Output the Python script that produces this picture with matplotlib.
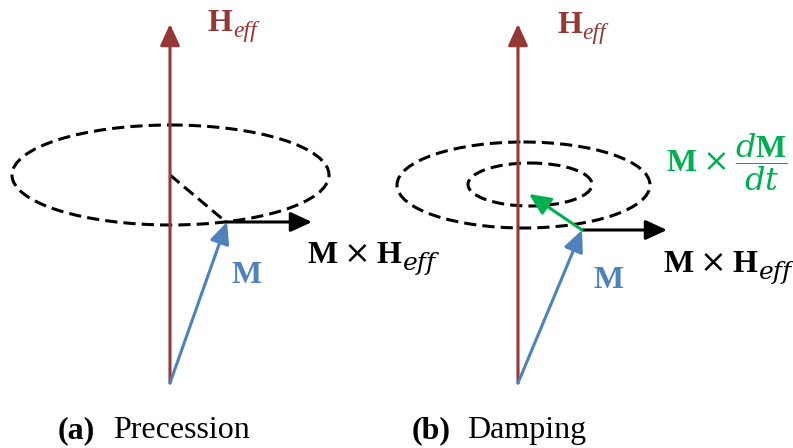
import matplotlib.pyplot as plt
from matplotlib.patches import Ellipse, ArrowStyle

plt.rcParams['mathtext.fontset'] = 'custom'
plt.rcParams['mathtext.rm'] = 'DejaVu Serif'
plt.rcParams['mathtext.it'] = 'DejaVu Serif:italic'
plt.rcParams['mathtext.bf'] = 'Liberation Serif:bold'

# colours
red = '#953735'
blue = '#4F81BD'
green = '#00B050'

# geometry in pixel coordinates (y downwards)
# panel (a): precession
a_axis = [(170, 383), (170, 24)]
a_orbit = (170.5, 175, 317, 100)   # cx, cy, width, height
a_radius = [(170, 175), (226, 222)]
a_m = [(170, 383), (227, 222)]
a_torque = [(226, 222), (312, 222)]

# panel (b): damping
b_axis = [(518, 383), (518, 24)]
b_orbits = [(523.5, 185, 253, 86), (530, 184.5, 124, 43)]
b_m = [(518, 383), (582, 230)]
b_torque = [(582, 230), (667, 230)]
b_damp = [(582, 230), (529, 194)]

# field labels H_eff: (x, baseline)
field_labels = [(208, 31), (557, 33)]
# torque labels M x H_eff: (x, baseline)
torque_labels = [(307, 263), (663, 272)]
# magnetisation labels: (x, baseline)
m_labels = [(231, 283), (593, 288)]
damp_label = (666, 172)
captions = [('(a)', 'Precession', 58, 113, 438), ('(b)', 'Damping', 412, 467, 438)]

fig = plt.figure(figsize=(7.93, 4.48), dpi=100)
ax = fig.add_axes([0, 0, 1, 1])
ax.set_xlim(0, 793)
ax.set_ylim(448, 0)
ax.axis('off')


def arrow(pts, color, hl=13, hw=6):
    style = ArrowStyle('-|>', head_length=hl, head_width=hw)
    ax.annotate('', xy=pts[1], xytext=pts[0],
                arrowprops=dict(arrowstyle=style, mutation_scale=1, lw=2.2,
                                color=color, shrinkA=0, shrinkB=0))


def with_sub(x, y, main, sub, size, subsize, color, drop, dx, subfamily, **mainkw):
    t = ax.text(x, y, main, fontsize=size, color=color, ha='left', va='baseline', **mainkw)
    ax.annotate(sub, xy=(1, y), xycoords=(t, 'data'), xytext=(dx, -drop),
                textcoords='offset points', fontsize=subsize, color=color,
                family=subfamily, style='italic', ha='left', va='baseline')


dash = (0, (4, 2))

# orbits
cx, cy, w, h = a_orbit
ax.add_patch(Ellipse((cx, cy), w, h, fill=False, lw=2.2, ls=dash, color='black'))
for cx, cy, w, h in b_orbits:
    ax.add_patch(Ellipse((cx, cy), w, h, fill=False, lw=2.2, ls=dash, color='black'))
ax.plot([p[0] for p in a_radius], [p[1] for p in a_radius], color='black', lw=2.2, ls=dash)

# arrows
arrow(a_axis, red)
arrow(b_axis, red)
arrow(a_torque, 'black')
arrow(b_torque, 'black')
arrow(a_m, blue)
arrow(b_m, blue)
arrow(b_damp, green)

for x, y in field_labels:
    with_sub(x, y, 'H', 'eff', 23, 17, red, 4.5, 0, 'Liberation Serif',
             family='Liberation Serif', fontweight='bold')

for x, y in torque_labels:
    with_sub(x, y, r'$\mathbf{M}\times\mathbf{H}$', 'eff', 23, 18, 'black', 5, 0,
             'DejaVu Serif')

for x, y in m_labels:
    ax.text(x, y, 'M', fontsize=23, fontweight='bold', family='Liberation Serif',
            color=blue, ha='left', va='baseline')

ax.text(damp_label[0], damp_label[1], r'$\mathbf{M}\times\dfrac{d\mathbf{M}}{dt}$',
        fontsize=23, color=green, ha='left', va='baseline')

for tag, word, x1, x2, y in captions:
    ax.text(x1, y, tag, fontsize=23, fontweight='bold', family='Liberation Serif',
            ha='left', va='baseline')
    ax.text(x2, y, word, fontsize=23, family='Liberation Serif', ha='left', va='baseline')

fig.savefig('out.png', dpi=100)
